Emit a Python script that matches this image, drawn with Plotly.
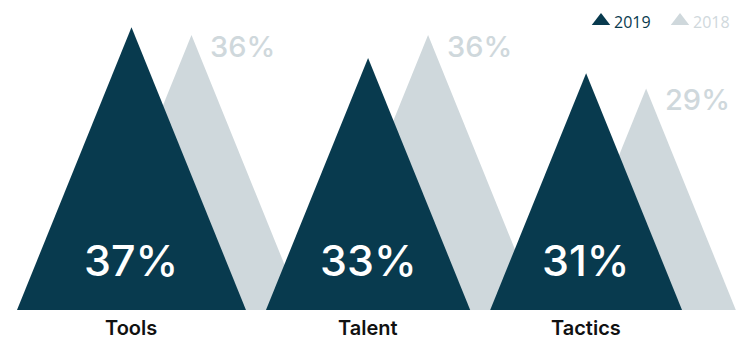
import plotly.graph_objects as go

# Survey results by category, two years
categories = ["Tools", "Talent", "Tactics"]
values_2019 = [37, 33, 31]
values_2018 = [36, 36, 29]
years = ["2019", "2018"]

DARK = "#083a4e"
LIGHT = "#cfd8dc"

W, H = 743, 341
PX = 7.64            # pixels per percentage point (both axes)
BASE_PX = 310        # baseline position from top
SLOPE = 0.405        # half-width of a peak per unit of height
GAP = 20 / PX        # gap between neighbouring 2019 peaks
LEFT0 = 17 / PX      # left edge of first peak
SHIFT = 60 / PX      # 2018 peaks sit to the right of 2019 peaks

# centres of the 2019 peaks, packed with a constant gap between bases
centres = []
for i, v in enumerate(values_2019):
    if i == 0:
        centres.append(LEFT0 + SLOPE * v)
    else:
        centres.append(centres[-1] + SLOPE * values_2019[i - 1] + GAP + SLOPE * v)
centres_2018 = [c + SHIFT for c in centres]


def peak(cx, v, color, name):
    hw = SLOPE * v
    return go.Scatter(
        x=[cx - hw, cx, cx + hw, cx - hw],
        y=[0, v, 0, 0],
        fill="toself", fillcolor=color, mode="lines",
        line=dict(width=0, color=color), hoverinfo="text",
        text=f"{name}: {v}%", showlegend=False,
    )


fig = go.Figure()
for cx, v, cat in zip(centres_2018, values_2018, categories):
    fig.add_trace(peak(cx, v, LIGHT, f"{cat} 2018"))
for cx, v, cat in zip(centres, values_2019, categories):
    fig.add_trace(peak(cx, v, DARK, f"{cat} 2019"))

ann = []
# values inside the 2019 peaks
for cx, v in zip(centres, values_2019):
    ann.append(dict(x=cx, y=6.6, text=f"{v}%", showarrow=False,
                    font=dict(family="Inter", size=43, color="white", weight=500),
                    xanchor="center", yanchor="middle"))
# values beside the 2018 peaks
for cx, v in zip(centres_2018, values_2018):
    ann.append(dict(x=cx + 17 / PX, y=v - 1.45, text=f"{v}%", showarrow=False,
                    font=dict(family="Inter", size=29, color=LIGHT, weight=500),
                    xanchor="left", yanchor="middle"))
# category labels
for cx, cat in zip(centres, categories):
    ann.append(dict(x=cx, y=-18 / PX, text=cat, showarrow=False,
                    font=dict(family="Inter", size=20, color="#111111", weight=600),
                    xanchor="center", yanchor="middle"))

# legend: triangle markers with coloured year labels
leg_x = [601 / PX, 680 / PX]
leg_y = (BASE_PX - 21) / PX
for lx, yr, col in zip(leg_x, years, [DARK, LIGHT]):
    fig.add_trace(go.Scatter(x=[lx], y=[leg_y], mode="markers",
                             marker=dict(symbol="triangle-up", size=16, color=col),
                             hoverinfo="skip", showlegend=False))
    ann.append(dict(x=lx + 11 / PX, y=leg_y - 0.1, text=yr, showarrow=False,
                    font=dict(family="Open Sans", size=16, color=col),
                    xanchor="left", yanchor="middle"))

fig.update_layout(
    width=W, height=H, autosize=False,
    margin=dict(l=0, r=0, t=0, b=0),
    paper_bgcolor="white", plot_bgcolor="white",
    xaxis=dict(range=[0, W / PX], visible=False, fixedrange=True),
    yaxis=dict(range=[-(H - BASE_PX) / PX, BASE_PX / PX], visible=False, fixedrange=True),
    annotations=ann,
)

fig.write_html("out.html")
